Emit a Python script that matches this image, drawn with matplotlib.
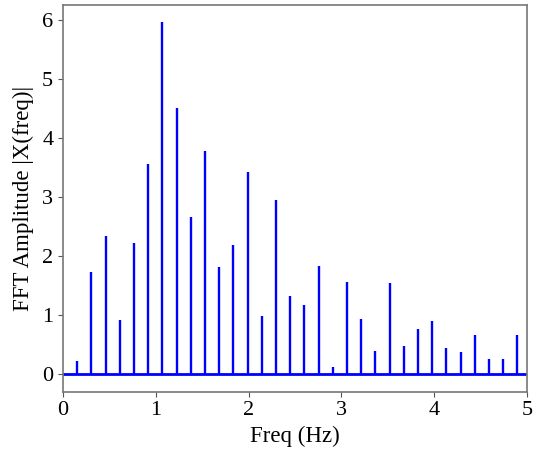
import numpy as np
import matplotlib.pyplot as plt

plt.rcParams['font.family'] = ['Liberation Serif', 'DejaVu Serif']

# frequency bins (Hz) and FFT amplitudes
df = 0.153
bins = np.arange(1, 33)
freq = bins * df
amp = [0.22, 1.73, 2.35, 0.92, 2.23, 3.56, 5.97, 4.52, 2.67, 3.78,
       1.81, 2.19, 3.43, 0.98, 2.96, 1.33, 1.17, 1.83, 0.12, 1.57,
       0.94, 0.40, 1.55, 0.48, 0.76, 0.90, 0.44, 0.37, 0.66, 0.26,
       0.26, 0.66]

fig = plt.figure(figsize=(5.43, 4.51), dpi=100)
ax = fig.add_axes([0.116, 0.1315, 0.8545, 0.8585])

markerline, stemlines, baseline = ax.stem(freq, amp, 'b', markerfmt=' ', basefmt='-b')
stemlines.set_linewidth(1.7)
baseline.set_linewidth(2)
baseline.set_xdata([0, 5])

ax.set_xlim(0, 5)
ax.set_xlabel('Freq (Hz)', fontsize=16.5)
ax.set_ylabel('FFT Amplitude |X(freq)|', fontsize=16.5, labelpad=6)
ax.tick_params(labelsize=16, color='#555555')

for s in ax.spines.values():
    s.set_color('#777777')
    s.set_linewidth(1.2)

fig.savefig('out.png', dpi=100)
